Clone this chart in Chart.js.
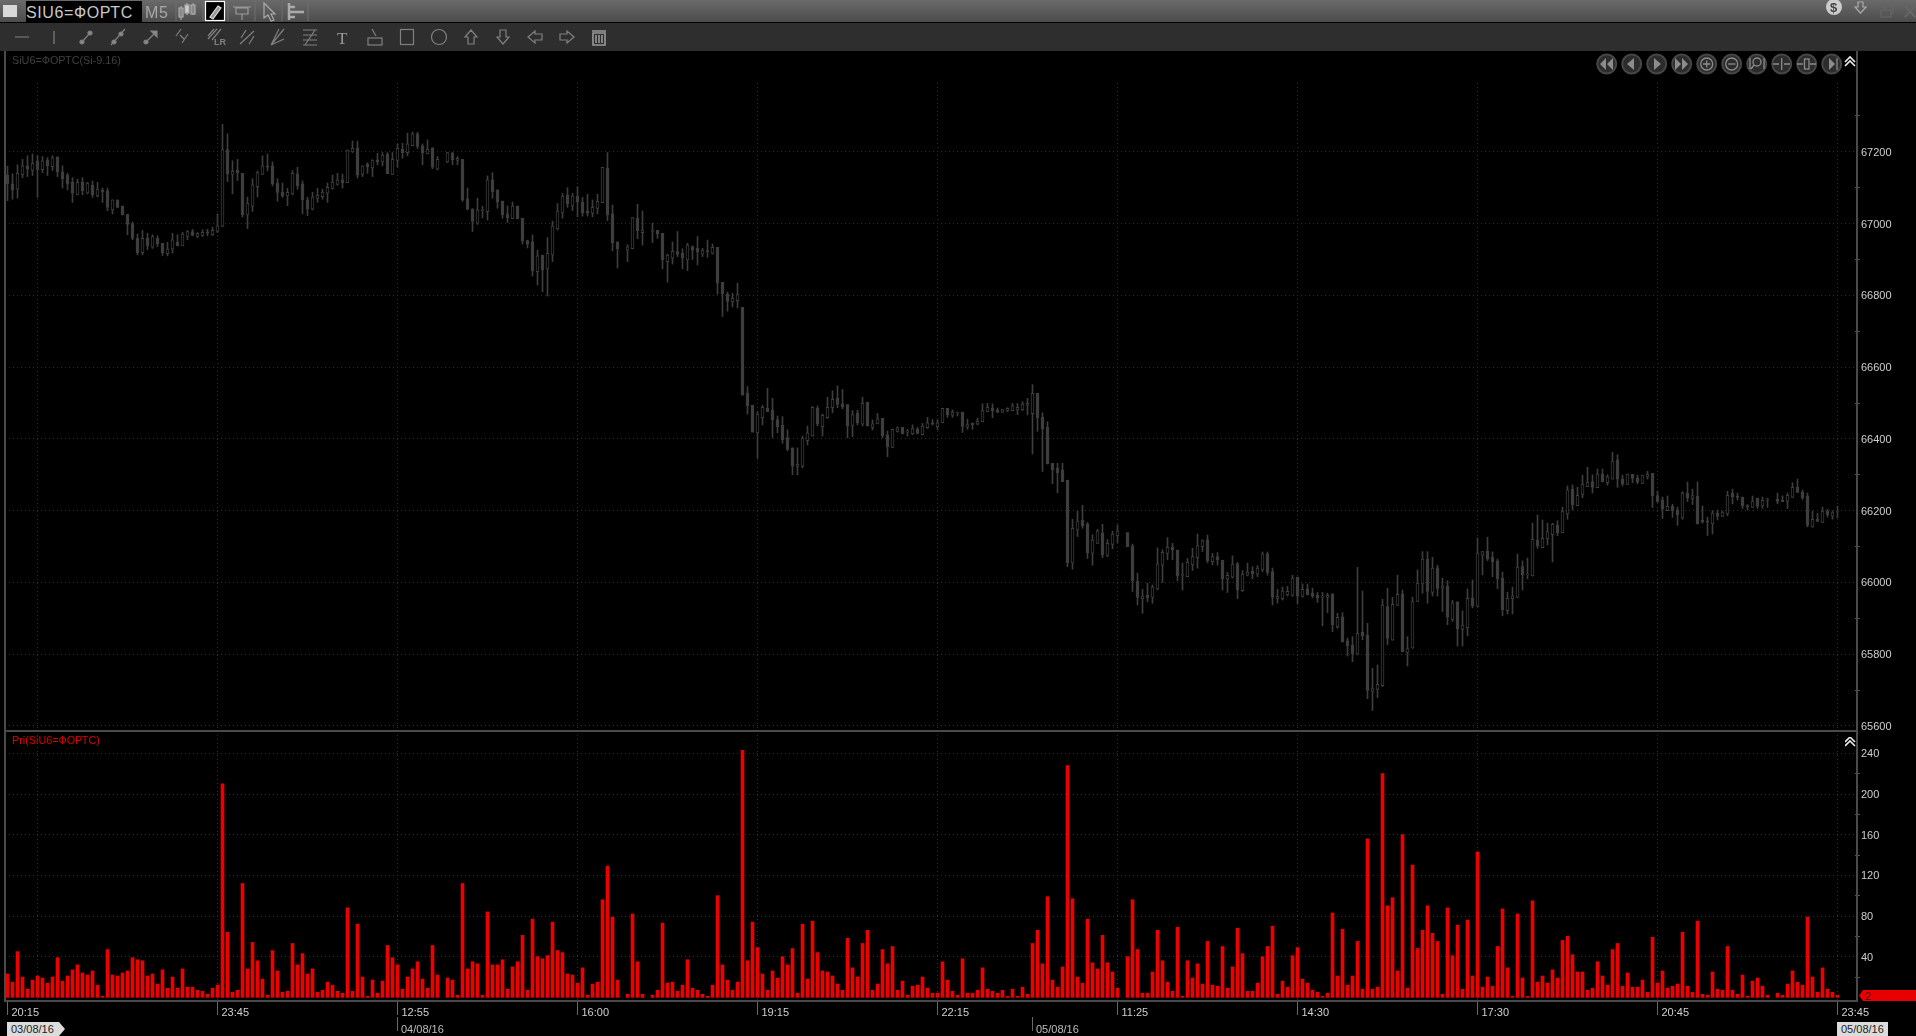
<!DOCTYPE html>
<html>
<head>
<meta charset="utf-8">
<title>SIU6=ФОРТС</title>
<script src="https://cdn.jsdelivr.net/npm/chart.js@4"></script>
<style>
html, body { margin: 0; padding: 0; background: #000; width: 1916px; height: 1036px; overflow: hidden; font-family: "Liberation Sans", sans-serif; }
canvas, .abs { position: absolute; display: block; }
#titlebar { left: 0; top: 0; width: 1916px; height: 22px; background: linear-gradient(#6a6a6a, #4c4c4c); }
#toolbar { left: 0; top: 23px; width: 1916px; height: 28px; background: #2e2e2e; }
#blackline { left: 0; top: 22px; width: 1916px; height: 1px; background: #000; }
#symbol { left: 26px; top: 1px; width: 116px; height: 21px; background: #000; color: #c8c8c8; font-size: 16px; letter-spacing: 0.6px; line-height: 23px; }
#tf { left: 145px; top: 1px; color: #a8a8a8; font-size: 16px; letter-spacing: 0.6px; line-height: 23px; }
#price { left: 0; top: 51px; }
#volume { left: 0; top: 731px; }
#topmask { left: 6px; top: 51px; width: 1849px; height: 29px; background: #000; }
#leftline { left: 4px; top: 51px; width: 2px; height: 951px; background: #4a4a4a; }
#rightline { left: 1856px; top: 51px; width: 2px; height: 951px; background: #4a4a4a; }
#sepline { left: 4px; top: 730px; width: 1852px; height: 2px; background: #4a4a4a; }
#pricename { left: 12px; top: 54px; color: #414141; font-size: 10.8px; }
#volname { left: 12px; top: 734px; color: #e00000; font-size: 10.8px; }
.date { top: 1022px; height: 14px; font-size: 11px; line-height: 15px; color: #bdbdbd; }
.tag { background: #dcdcdc; color: #222; }
#d1 { left: 7px; width: 58px; padding-left: 4px; box-sizing: border-box; clip-path: polygon(0 0, 52px 0, 58px 50%, 52px 100%, 0 100%); }
#d2 { left: 401px; }
#d3 { left: 1036px; }
#d4 { left: 1837px; width: 51px; padding-left: 4px; box-sizing: border-box; }
.dline { width: 1px; background: #666; }
#lastvol { left: 1859px; top: 990px; width: 57px; height: 11px; background: #e80000; color: #5a0000; font-size: 11px; line-height: 12px; padding-left: 6px; box-sizing: border-box; clip-path: polygon(4px 0, 100% 0, 100% 100%, 4px 100%, 0 50%); }
</style>
</head>
<body>
<canvas id="price" width="1916" height="680"></canvas>
<canvas id="volume" width="1916" height="305"></canvas>

<div id="topmask" class="abs"></div>
<div id="leftline" class="abs"></div>
<div id="rightline" class="abs"></div>
<div id="sepline" class="abs"></div>
<div id="titlebar" class="abs"></div>
<div id="blackline" class="abs"></div>
<div id="toolbar" class="abs"></div>
<div id="symbol" class="abs">SIU6=ФОРТС</div>
<div id="tf" class="abs">M5</div>
<div id="pricename" class="abs">SiU6=ФОРТС(Si-9.16)</div>
<div id="volname" class="abs">Pri(SiU6=ФОРТС)</div>
<div id="d1" class="abs date tag">03/08/16</div>
<div id="d2" class="abs date">04/08/16</div>
<div id="d3" class="abs date">05/08/16</div>
<div id="d4" class="abs date tag">05/08/16</div>
<div class="abs dline" style="left:397px;top:1017px;height:14px"></div>
<div class="abs dline" style="left:1032px;top:1017px;height:14px"></div>
<div id="lastvol" class="abs">2</div>

<!-- window and drawing tool icons -->
<svg class="abs" style="left:0;top:0" width="1916" height="51" fill="none" stroke="#8a8a8a" stroke-width="1.2">
  <rect x="3" y="5" width="14" height="12" fill="#d8d8d8" stroke="none"/>
  <path d="M176 1v20M203 1v20M228 1v20M255 1v20M282 1v20M308 1v20" stroke="#6e6e6e" stroke-width="1"/>
  <g stroke="#aaa"><path d="M181 6v14M187 3v12M193 3v12"/><rect x="179" y="8" width="4" height="9" fill="#888"/><rect x="185" y="5" width="4" height="8" fill="#ccc"/><rect x="191" y="5" width="4" height="9" fill="#888"/></g>
  <rect x="205.500" y="1.500" width="19" height="19" fill="#000" stroke="#fff"/>
  <path d="M210 17l8-11 3 2-8 11z" fill="#999" stroke="#ddd"/>
  <path d="M233 7h18M236 8h12v6h-12zM242 14v6" stroke="#999"/>
  <path d="M264 3v15l4-3 3 6 3-1-3-6h4z" stroke="#aaa"/>
  <path d="M289 3v17M289 7h6M289 12h15M289 17h6" stroke="#aaa" stroke-width="2.5"/>
  <circle cx="1834" cy="7" r="8" fill="#ccc" stroke="none"/>
  <text x="1830" y="12" font-size="13" font-weight="bold" fill="#444" stroke="none" font-family="Liberation Sans">$</text>
  <path d="M1858 2h5v5h3l-5.500 6-5.500-6h3z" stroke="#aaa"/>
  <path d="M1881 10h10v7h-10zM1884 10v-4h9v7h-2" stroke="#666"/>
  <path d="M1905 6l10 11M1915 6l-10 11" stroke="#666" stroke-width="2"/>
  <g stroke="#808080">
    <path d="M15 37h14M54 31v13"/>
    <g transform="translate(86 37)"><path d="M-4 5l8-9"/><circle cx="-4" cy="5" r="2" fill="#888"/><circle cx="4" cy="-4" r="2" fill="#888"/></g>
    <g transform="translate(118 37)"><path d="M-7 8l14-16"/><circle cx="-4" cy="5" r="2" fill="#888"/><circle cx="3" cy="-3" r="2" fill="#888"/></g>
    <g transform="translate(151 37)"><path d="M-5 5l8-8"/><circle cx="-5" cy="5" r="2" fill="#888"/><path d="M0-6h6v6z" fill="#888"/></g>
    <g transform="translate(182 37)"><path d="M-1-8l-5 7M6-3l-6 9M-2-2l4 4"/></g>
    <g transform="translate(216 37)"><path d="M-8 2l9-10M-4 3l9-11M-8-1l6-7"/><text x="-2" y="8" font-size="9" font-weight="bold" font-family="Liberation Sans" fill="#808080" stroke="none">LR</text></g>
    <g transform="translate(247 37)"><path d="M-6 1l5-8M2 7l5-8M-7 7L7-6"/></g>
    <g transform="translate(278 37)"><path d="M-7 8L6-8M-7 8l13-6M-7 8L1-8"/></g>
    <g transform="translate(310 37)"><path d="M-7-7H7M-7-2H7M-7 3H7M-7 8H7M5-7L-5 8"/></g>
    <g transform="translate(375 37)"><rect x="-7" y="1" width="14" height="7"/><path d="M-3-8l4 7"/></g>
    <rect x="400.500" y="29.500" width="13" height="15"/>
    <circle cx="439" cy="37" r="7.500"/>
    <path d="M471 30l6 7h-3v7h-6v-7h-3zM503 44l6-7h-3v-7h-6v7h-3zM528 37l7-6v3h7v6h-7v3zM574 37l-7-6v3h-7v6h7v3z"/>
    <path d="M593 33h12v12h-12zM592 31h14M596 35v8M599 35v8M602 35v8" stroke="#999" stroke-width="1.6"/>
  </g>
  <text x="337" y="44" font-size="17" font-family="Liberation Serif" fill="#999" stroke="none">T</text>
</svg>

<!-- chart navigation buttons -->
<svg class="abs" style="left:1590px;top:50px" width="270" height="30">
  <g fill="#2c2c2c" stroke="#464646" stroke-width="2">
    <circle cx="16.700" cy="14" r="9.500"/><circle cx="41.700" cy="14" r="9.500"/><circle cx="66.700" cy="14" r="9.500"/><circle cx="91.700" cy="14" r="9.500"/><circle cx="116.700" cy="14" r="9.500"/>
    <circle cx="141.700" cy="14" r="9.500"/><circle cx="166.700" cy="14" r="9.500"/><circle cx="191.700" cy="14" r="9.500"/><circle cx="216.700" cy="14" r="9.500"/><circle cx="241.700" cy="14" r="9.500"/>
  </g>
  <g fill="#8c8c8c">
    <path d="M16 8v12l-6-6zM23 8v12l-6-6zM44 8v12l-7-6zM64 8v12l7-6zM85 8v12l6-6zM92 8v12l6-6z"/>
    <path d="M239 8v12l6-6z"/>
  </g>
  <g fill="none" stroke="#8c8c8c" stroke-width="1.300">
    <circle cx="116.700" cy="14" r="6"/><path d="M113 14h7.500M116.700 10.500v7"/>
    <circle cx="141.700" cy="14" r="6"/><path d="M138 14h7.500"/>
    <circle cx="167" cy="12" r="4"/><path d="M164 15l-3 4M160 8v11M174 8v11"/>
    <path d="M191.700 8v12M183 14h6M194 14h6M207 14h6M220 14h6"/><rect x="214.500" y="9" width="4.500" height="10"/>
    <path d="M247 8v12"/>
  </g>
  <path d="M255 16l5-5 5 5M255 12l5-5 5 5" fill="none" stroke="#eee" stroke-width="1.600"/>
</svg>
<svg class="abs" style="left:1845px;top:737px" width="11" height="11">
  <path d="M0 9l5-5 5 5M0 5l5-5 5 5" fill="none" stroke="#eee" stroke-width="1.600"/>
</svg>

<script>
const opens = [
67136,67111,67096,67136,67161,67148,67175,67150,67178,67159,67186,67144,67136,67115,67080,67115,67085,67107,67077,67093,
67091,67038,67066,67049,67026,67000,66959,66919,66959,66934,66959,66945,66916,66929,66948,66938,66964,66978,66964,66967,
66977,66969,66978,66992,67206,67137,67149,67140,67024,67048,67103,67137,67159,67161,67113,67088,67077,67083,67139,67111,
67066,67040,67070,67075,67085,67098,67109,67122,67114,67200,67211,67137,67165,67155,67178,67172,67193,67137,67176,67207,
67198,67217,67250,67217,67194,67211,67152,null,67172,67197,67176,67179,67069,67041,67001,
67036,67033,67122,67094,67063,67027,67014,67049,67015,66953,66949,66866,66912,66874,66913,66985,67030,67080,67049,67077,
67060,67035,67029,67042,67058,67155,67027,66949,null,66926,66930,67015,66975,null,66978,66981,66973,66894,66904,66922,
66917,66899,66936,66931,66915,66925,66917,66934,66836,66804,66782,66785,66767,66527,66494,66417,66459,66485,66480,66454,
66438,66404,66375,66323,66323,66395,66408,66485,66434,66459,66487,66513,66498,66496,66436,66471,66441,66502,66432,66442,
66457,66410,66376,66421,66432,66419,66414,66427,66412,66431,66445,66434,66445,66485,66466,66473,
66475,66433,66444,66441,66448,66476,66486,66481,66474,66478,66479,66481,66481,66493,66470,66527,66460,66433,66332,66318,
66314,66285,66054,66146,66173,66163,66081,66109,66137,66074,66106,66130,null,66139,66102,66003,65955,65964,65958,65981,
66048,66081,66098,66090,66020,66016,66049,66069,66100,66119,66058,66072,66062,66009,66015,66052,65977,66020,66031,66023,
66035,66080,66030,65955,65955,65965,65964,66015,65961,65982,65970,65964,65959,65958,65968,65877,65904,65837,65825,65800,
65861,65853,65697,65702,65712,65933,65839,65936,65968,65805,65817,65947,65996,66065,65972,66041,
65983,65990,65897,65946,65869,65874,65957,65933,66076,66087,66071,66060,66012,65921,65955,65958,66044,66021,66018,66118,
66097,66122,66133,66160,66139,66191,66260,66214,66245,66267,66281,66264,66302,66278,66288,66342,66288,66273,66301,66291,
66276,66294,66304,66242,66230,66200,66212,66202,66180,66249,66234,66241,66174,66172,66163,66193,66184,66191,66249,66241,
66238,66212,66209,66235,66213,66229,null,66232,66229,66226,66237,66265,66252,66241,66154,66176,66167,66198,66185,66197];
const highs = [
67160,67139,67164,67179,67189,67194,67190,67187,67184,67189,67186,67161,67140,67128,67124,67128,67115,67119,67115,67099,
67099,67066,67066,67049,67026,67004,66971,66981,66973,66969,66966,66945,66948,66973,66969,66976,66981,66984,66975,66983,
66984,66990,67027,67277,67250,67175,67179,67140,67074,67125,67147,67189,67194,67172,67125,67113,67098,67148,67157,67119,
67074,67087,67098,67096,67113,67135,67140,67138,67205,67230,67230,67161,67170,67178,67196,67198,67198,67198,67222,67224,
67252,67255,67254,67222,67233,67211,67187,null,67198,67198,67187,67179,67099,67041,67071,
67049,67133,67142,67094,67063,67049,67060,67049,67015,66954,66968,66926,66912,66961,67007,67056,67084,67100,67084,67103,
67073,67082,67066,67082,67157,67198,67052,66949,null,66941,67017,67054,67035,null,67001,66981,66973,66915,66949,66978,
66930,66945,66938,66964,66931,66954,66943,66934,66836,66809,66806,66834,66767,66546,66494,66476,66494,66541,66513,66464,
66462,66425,66375,66375,66408,66436,66490,66492,66469,66516,66534,66548,66538,66496,66479,66480,66516,66502,66453,66471,
66457,66422,66427,66434,66432,66427,66439,66432,66443,66460,66454,66453,66485,66485,66481,66473,
66475,66455,66444,66458,66498,66499,66498,66486,66482,66487,66499,66499,66504,66513,66551,66527,66473,66448,66332,66332,
66332,66285,66176,66199,66215,66167,66133,66148,66162,66119,66143,66160,null,66139,66107,66026,65981,65998,65993,66096,
66091,66125,66109,66090,66054,66067,66095,66135,66119,66132,66081,66083,66062,66028,66074,66056,66033,66054,66044,66047,
66085,66085,66040,65981,65987,65989,66020,66015,65996,65996,65984,65972,65972,65970,65968,65914,65916,65845,65849,66042,
65976,65886,65761,65770,65953,65984,65959,66020,65979,65849,65959,66035,66086,66086,66070,66048,
66012,66005,65950,65946,65921,65982,66007,66124,66086,66126,66085,66065,66029,65973,65987,66079,66060,66068,66165,66188,
66174,66165,66165,66172,66210,66269,66272,66265,66299,66321,66300,66316,66316,66300,66363,66356,66299,66302,66301,66299,
66299,66310,66304,66255,66238,66241,66218,66210,66253,66280,66260,66280,66213,66182,66200,66202,66199,66254,66260,66249,
66238,66217,66241,66235,66238,66235,null,66249,66241,66249,66278,66288,66258,66249,66199,66193,66210,66204,66199,66212];
const lows = [
67064,67068,67071,67128,67131,67134,67073,67142,67134,67148,67131,67099,67094,67059,67080,67080,67083,67073,67074,67059,
67036,67027,67045,67024,66969,66955,66913,66913,66927,66931,66936,66911,66910,66918,66938,66938,66955,66966,66961,66964,
66966,66967,66975,66992,67117,67083,67120,67018,66986,67034,67074,67137,67147,67105,67062,67073,67050,67080,67096,67027,
67022,67038,67059,67068,67059,67096,67107,67099,67114,67198,67127,67131,67140,67131,67164,67161,67139,67137,67157,67182,
67189,67217,67209,67164,67194,67153,67150,null,67170,67164,67164,67062,67038,66978,66998,
67016,67010,67070,67043,67015,67003,67014,67013,66943,66932,66854,66829,66810,66798,66894,66982,67015,67045,67036,67019,
67021,67021,67019,67027,67058,67008,66924,66876,null,66894,66930,66958,66940,null,66947,66959,66874,66837,66887,66908,
66874,66869,66900,66885,66908,66906,66915,66804,66741,66756,66768,66765,66522,66469,66419,66346,66439,66476,66404,66417,
66388,66367,66300,66300,66320,66383,66408,66436,66408,66457,66473,66487,66484,66403,66406,66439,66436,66436,66425,66442,
66403,66350,66376,66419,66414,66408,66412,66414,66411,66429,66439,66425,66445,66460,66460,66464,
66418,66427,66427,66439,66448,66476,66459,66474,66474,66476,66479,66468,66479,66467,66358,66421,66309,66330,66275,66250,
66281,66044,66037,66128,66151,66067,66048,66109,66069,66072,66094,66111,null,66100,65975,65937,65914,65946,65942,65979,
66000,66063,66063,66005,65979,66016,66033,66040,66086,66055,66049,66048,65979,65972,66012,65955,65975,66018,66010,66016,
66030,66020,65937,65942,65951,65962,65961,65940,65959,65965,65957,65944,65879,65916,65863,65872,65834,65795,65779,65798,
65840,65676,65643,65679,65710,65826,65839,65936,65807,65767,65817,65947,65970,65942,65962,65962,
65919,65882,65891,65823,65823,65851,65929,65933,66021,66061,66016,65983,65907,65912,65912,65958,65979,66010,66018,66095,
66097,66105,66057,66130,66139,66176,66202,66214,66236,66267,66249,66264,66280,66271,66288,66265,66269,66273,66278,66275,
66276,66288,66209,66223,66178,66200,66181,66159,66176,66225,66217,66163,66165,66131,66135,66174,66184,66186,66219,66230,
66206,66202,66209,66206,66206,66209,null,66219,66225,66206,66237,66251,66231,66155,66154,66169,66167,66182,66176,66180];
const closes = [
67111,67094,67140,67161,67152,67168,67150,67175,67161,67184,67144,67125,67111,67085,67115,67091,67113,67080,67096,67089,
67045,67066,67045,67024,66998,66959,66919,66959,66938,66964,66944,66918,66929,66955,66938,66971,66978,66967,66973,66976,
66973,66981,66994,67206,67139,67146,67142,67024,67057,67108,67142,67161,67157,67111,67087,67078,67087,67140,67105,67066,
67040,67074,67079,67088,67101,67116,67122,67114,67205,67210,67135,67161,67159,67177,67172,67191,67139,67179,67210,67198,
67222,67250,67215,67198,67207,67157,67179,null,67198,67178,67182,67066,67040,67006,67038,
67038,67122,67088,67060,67024,67016,67049,67013,66952,66943,66869,66910,66871,66917,66993,67035,67077,67055,67077,67060,
67029,67029,67045,67062,67157,67024,66947,66930,null,66935,67017,66980,66982,null,66979,66971,66899,66912,66923,66914,
66904,66940,66926,66921,66925,66922,66934,66834,66804,66783,66792,66802,66522,66492,66419,66469,66488,66476,66453,66434,
66397,66371,66324,66329,66402,66417,66488,66441,66466,66488,66510,66496,66490,66436,66468,66445,66499,66436,66442,66456,
66408,66378,66427,66431,66414,66420,66429,66415,66436,66445,66441,66445,66485,66467,66474,66473,
66435,66440,66440,66450,66479,66488,66479,66474,66482,66485,66492,66488,66497,66499,66527,66459,66428,66330,66314,66306,
66281,66055,66151,66171,66158,66083,66118,66143,66077,66109,66135,66143,null,66100,66005,65958,65962,65957,65987,66052,
66084,66098,66091,66018,66020,66056,66072,66103,66117,66060,66072,66063,66010,66020,66051,65979,66023,66029,66024,66040,
66080,66028,65958,65961,65976,65975,66012,65962,65981,65965,65962,65957,65959,65964,65882,65903,65834,65823,65801,65858,
65851,65699,65704,65716,65937,65844,65939,65967,65807,65816,65947,65998,66065,65975,66040,65983,
65990,65903,65944,65871,65881,65956,65935,66082,66086,66065,66057,66010,65924,65956,65962,66043,66021,66021,66120,66102,
66123,66141,66162,66139,66199,66258,66216,66243,66274,66280,66265,66302,66280,66294,66338,66288,66275,66302,66290,66280,
66299,66301,66242,66226,66204,66212,66200,66188,66249,66235,66242,66163,66169,66168,66193,66184,66196,66243,66239,66237,
66213,66211,66227,66212,66229,66229,null,66226,66225,66243,66265,66251,66236,66159,66176,66171,66199,66189,66195,66197];
const volumes = [
23,15,45,20,8,17,21,19,14,20,39,16,21,27,32,24,22,26,12,1,47,22,21,24,26,39,37,36,21,23,13,27,9,20,9,28,10,10,7,6,
3,9,12,210,64,5,7,112,28,54,36,18,2,46,26,5,6,53,32,43,23,28,5,7,15,12,6,4,88,6,72,20,1,17,4,16,51,39,32,8,
20,28,35,18,9,51,22,null,19,17,2,112,28,35,33,
2,84,32,32,37,8,30,35,61,7,77,40,38,41,74,46,44,23,22,14,29,2,13,15,96,129,79,17,null,3,82,35,3,null,2,7,73,14,15,6,
12,37,9,7,3,1,12,100,32,17,7,15,243,36,74,49,23,7,26,19,40,32,48,4,72,18,75,44,26,25,21,13,7,58,29,20,53,66,7,13,
47,33,50,7,16,2,11,12,20,9,4,4,35,17,6,2,
38,4,4,7,29,8,6,4,7,1,8,1,10,3,53,66,33,99,17,10,30,228,97,20,14,77,34,28,61,34,25,9,null,40,96,47,4,4,25,66,
36,15,6,69,1,36,19,33,13,55,12,11,50,9,30,68,43,6,6,14,40,50,70,3,16,10,41,49,18,14,7,5,1,4,83,21,67,12,21,55,
8,156,8,10,220,90,98,26,160,9,130,48,66,90,63,55,
3,88,41,71,8,76,21,143,10,20,11,50,87,29,1,82,19,1,95,15,21,14,27,19,56,60,42,25,25,7,9,35,21,12,47,53,11,24,10,10,
17,5,59,14,26,9,11,13,64,11,5,75,3,2,25,8,7,50,7,3,22,1,16,19,11,2,null,4,2,13,26,15,12,79,20,5,29,8,5,2];
const tickIndexes = [0, 6, 42, 78, 114, 150, 186, 222, 258, 294, 330, 366];
const tickLabels = ["20:15", "", "23:45", "12:55", "16:00", "19:15", "22:15", "11:25", "14:30", "17:30", "20:45", "23:45"];
const priceLabels = [65600, 65800, 66000, 66200, 66400, 66600, 66800, 67000, 67200];
const priceMinor = [65700, 65900, 66100, 66300, 66500, 66700, 66900, 67100, 67300];
const volumeLabels = [40, 80, 120, 160, 200, 240];
const volumeMinor = [20, 60, 100, 140, 180, 220];

const slots = 370; // room for 3 empty bars right of the last candle
const xLabels = [];
for (let i = 0; i < slots; i++) xLabels.push("");
tickIndexes.forEach((t, i) => { xLabels[t] = tickLabels[i]; });

const wicks = highs.map((h, i) => h === null ? null : [lows[i], h]);
const bodies = opens.map((o, i) => o === null ? null : [Math.min(o, closes[i]), Math.max(o, closes[i])]);
const candleColor = "#3e3e3e";
const gridColor = "#2e2e2e";
const axisColor = "#4a4a4a";
const textColor = "#cfcfcf";
const font = { family: "'Liberation Sans'", size: 11 };

function xScale(showLabels) {
  return {
    type: "category",
    offset: true,
    afterBuildTicks: s => { s.ticks = tickIndexes.map(v => ({ value: v })); },
    afterFit: s => { s.height = showLabels ? 35 : 0; s.paddingLeft = 0; s.paddingRight = 0; },
    grid: {
      offset: false,
      drawTicks: showLabels,
      tickLength: 14,
      color: c => c.tick && c.tick.value === 0 ? "transparent" : gridColor,
      tickColor: c => c.tick && c.tick.value === 6 ? "transparent" : "#666"
    },
    border: { display: showLabels, color: axisColor, width: 2, dash: [1, 3] },
    ticks: {
      display: showLabels,
      autoSkip: false,
      maxRotation: 0,
      align: "start",
      labelOffset: 4,
      padding: -9,
      color: textColor,
      font: font
    }
  };
}

function yScale(min, max, labelled, minor) {
  return {
    position: "right",
    min: min,
    max: max,
    afterBuildTicks: s => { s.ticks = labelled.concat(minor).sort((a, b) => a - b).map(v => ({ value: v })); },
    afterFit: s => { s.width = 61; s.paddingTop = 0; s.paddingBottom = 0; },
    grid: {
      tickLength: 5,
      color: c => c.tick && labelled.includes(c.tick.value) ? gridColor : "transparent",
      tickColor: c => c.tick && minor.includes(c.tick.value) ? "#555" : "transparent"
    },
    border: { display: false, dash: [1, 3] },
    ticks: {
      padding: 1,
      labelOffset: 1,
      color: textColor,
      font: font,
      callback: v => labelled.includes(v) ? String(v) : ""
    }
  };
}

const noExtras = { legend: { display: false }, tooltip: { enabled: false } };

new Chart(document.getElementById("price"), {
  type: "bar",
  data: {
    labels: xLabels,
    datasets: [
      { data: wicks, barThickness: 1, backgroundColor: candleColor, order: 2, grouped: false },
      {
        data: bodies,
        barThickness: 3,
        minBarLength: 1,
        borderWidth: 1,
        borderSkipped: false,
        borderColor: candleColor,
        backgroundColor: opens.map((o, i) => closes[i] < o ? candleColor : "#000"),
        order: 1,
        grouped: false
      }
    ]
  },
  options: {
    responsive: false,
    animation: false,
    layout: { padding: { left: 5, right: 0, top: 0, bottom: 0 } },
    plugins: noExtras,
    scales: { x: xScale(false), y: yScale(65586, 67481, priceLabels, priceMinor) }
  }
});

new Chart(document.getElementById("volume"), {
  type: "bar",
  data: {
    labels: xLabels,
    datasets: [{ data: volumes, barThickness: 3, backgroundColor: "#ec0000" }]
  },
  options: {
    responsive: false,
    animation: false,
    layout: { padding: { left: 5, right: 0, top: 0, bottom: 0 } },
    plugins: noExtras,
    scales: { x: xScale(true), y: yScale(-3.6, 262, volumeLabels, volumeMinor) }
  }
});
</script>
</body>
</html>
